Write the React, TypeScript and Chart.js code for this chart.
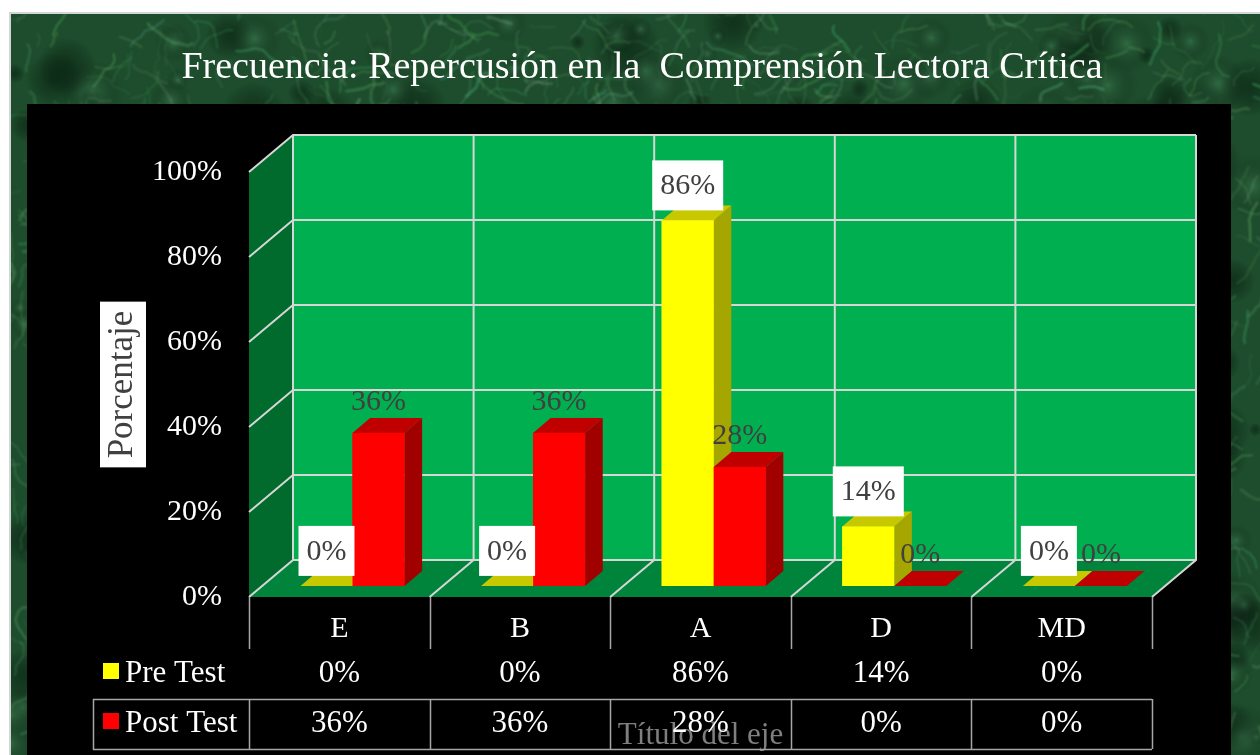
import { useEffect, useRef } from 'react';
import { Chart, registerables } from 'chart.js';

Chart.register(...registerables);

// ---- data ----
const categories = ['E', 'B', 'A', 'D', 'MD'];
const preTest = [0, 0, 86, 14, 0];
const postTest = [36, 36, 28, 0, 0];
const seriesNames = ['Pre Test', 'Post Test'];
const yMax = 100;
const yStep = 20;

const chartTitle = 'Frecuencia: Repercusión en la  Comprensión Lectora Crítica';
const yTitle = 'Porcentaje';
const xTitle = 'Título del eje';

// ---- look ----
const W = 1260;
const H = 755;
const SERIF = '"Liberation Serif", "Times New Roman", serif';

// oblique depth of the plot box, and where the bar row sits inside it
const DEPTH_X = 44;
const DEPTH_Y = -37;
const BAR_FRONT = 0.3;
const BAR_DEPTH = 0.4;

const frontColors = ['#FFFF00', '#FF0000'];
const topColors = ['#C8C800', '#C00000'];
const sideColors = ['#A6A600', '#A00000'];

function mulberry32(seed: number) {
  let a = seed;
  return () => {
    a |= 0;
    a = (a + 0x6d2b79f5) | 0;
    let t = Math.imul(a ^ (a >>> 15), 1 | a);
    t = (t + Math.imul(t ^ (t >>> 7), 61 | t)) ^ t;
    return ((t ^ (t >>> 14)) >>> 0) / 4294967296;
  };
}

// green marble slide background
function drawMarble(ctx: CanvasRenderingContext2D, x: number, y: number, w: number, h: number) {
  ctx.save();
  ctx.beginPath();
  ctx.rect(x, y, w, h);
  ctx.clip();
  ctx.fillStyle = '#1d4d2c';
  ctx.fillRect(x, y, w, h);
  const rnd = mulberry32(90210);
  for (let i = 0; i < 420; i++) {
    const cx = x + rnd() * w;
    const cy = y + rnd() * h;
    const r = 6 + rnd() * 30;
    const light = rnd() < 0.55;
    const g = ctx.createRadialGradient(cx, cy, 0, cx, cy, r);
    g.addColorStop(0, light ? 'rgba(70,140,92,0.45)' : 'rgba(4,32,14,0.55)');
    g.addColorStop(1, 'rgba(0,0,0,0)');
    ctx.fillStyle = g;
    ctx.fillRect(cx - r, cy - r, 2 * r, 2 * r);
  }
  ctx.filter = 'blur(1px)';
  ctx.lineCap = 'round';
  ctx.lineJoin = 'round';
  for (let i = 0; i < 1600; i++) {
    let px = x + rnd() * w;
    let py = y + rnd() * h;
    ctx.beginPath();
    ctx.moveTo(px, py);
    const seg = 3 + Math.floor(rnd() * 5);
    let ang = rnd() * Math.PI * 2;
    for (let s = 0; s < seg; s++) {
      ang += (rnd() - 0.5) * 1.4;
      const len = 3 + rnd() * 8;
      px += Math.cos(ang) * len;
      py += Math.sin(ang) * len;
      ctx.lineTo(px, py);
    }
    const r = (70 + rnd() * 50) | 0;
    const gg = (140 + rnd() * 50) | 0;
    const b = (95 + rnd() * 35) | 0;
    ctx.strokeStyle = `rgba(${r},${gg},${b},${0.15 + rnd() * 0.3})`;
    ctx.lineWidth = 0.8 + rnd() * 2;
    ctx.stroke();
  }
  ctx.filter = 'none';
  ctx.restore();
}

function poly(ctx: CanvasRenderingContext2D, pts: number[][], fill: string) {
  ctx.beginPath();
  ctx.moveTo(pts[0][0], pts[0][1]);
  for (let i = 1; i < pts.length; i++) ctx.lineTo(pts[i][0], pts[i][1]);
  ctx.closePath();
  ctx.fillStyle = fill;
  ctx.fill();
}

const scenePlugin = {
  id: 'scene',
  beforeDraw(chart: any) {
    const ctx: CanvasRenderingContext2D = chart.ctx;
    ctx.save();
    ctx.fillStyle = '#ffffff';
    ctx.fillRect(0, 0, W, H);
    drawMarble(ctx, 10, 14, W - 10, H - 14);
    ctx.strokeStyle = '#D4D4D4';
    ctx.lineWidth = 2;
    ctx.beginPath();
    ctx.moveTo(10, H);
    ctx.lineTo(10, 13);
    ctx.lineTo(W, 13);
    ctx.stroke();

    ctx.fillStyle = '#ffffff';
    ctx.font = `38px ${SERIF}`;
    ctx.textAlign = 'center';
    ctx.textBaseline = 'alphabetic';
    ctx.fillText(chartTitle, 642, 78);

    // black plot panel
    ctx.fillStyle = '#000000';
    ctx.fillRect(27, 104, 1204, H - 104);

    // white box behind the value-axis title
    const ys = chart.scales.y;
    const cy = (ys.top + ys.bottom) / 2;
    ctx.font = `35px ${SERIF}`;
    const tw = ctx.measureText(yTitle).width;
    ctx.fillStyle = '#ffffff';
    ctx.fillRect(100, cy - tw / 2 - 9, 46, tw + 18);
    ctx.restore();
  },
  beforeDatasetsDraw(chart: any) {
    const ctx: CanvasRenderingContext2D = chart.ctx;
    const { left: L, right: R } = chart.chartArea;
    const ys = chart.scales.y;
    const xs = chart.scales.x;
    const y0 = ys.getPixelForValue(0);
    const y1 = ys.getPixelForValue(yMax);
    const n = categories.length;
    const cw = (R - L) / n;

    ctx.save();
    // back wall, side wall, floor
    poly(ctx, [[L + DEPTH_X, y1 + DEPTH_Y], [R + DEPTH_X, y1 + DEPTH_Y], [R + DEPTH_X, y0 + DEPTH_Y], [L + DEPTH_X, y0 + DEPTH_Y]], '#00B050');
    poly(ctx, [[L, y1], [L + DEPTH_X, y1 + DEPTH_Y], [L + DEPTH_X, y0 + DEPTH_Y], [L, y0]], '#006B2D');
    poly(ctx, [[L, y0], [R, y0], [R + DEPTH_X, y0 + DEPTH_Y], [L + DEPTH_X, y0 + DEPTH_Y]], '#00843C');

    // gridlines on walls and floor
    ctx.strokeStyle = '#D6D6D6';
    ctx.lineWidth = 2;
    ctx.beginPath();
    for (let v = 0; v <= yMax; v += yStep) {
      const y = ys.getPixelForValue(v);
      ctx.moveTo(L, y);
      ctx.lineTo(L + DEPTH_X, y + DEPTH_Y);
      ctx.lineTo(R + DEPTH_X, y + DEPTH_Y);
    }
    for (let k = 0; k <= n; k++) {
      const xb = L + k * cw;
      ctx.moveTo(xb, y0);
      ctx.lineTo(xb + DEPTH_X, y0 + DEPTH_Y);
      ctx.lineTo(xb + DEPTH_X, y1 + DEPTH_Y);
    }
    ctx.stroke();

    // data table under the plot
    ctx.strokeStyle = '#A6A6A6';
    ctx.lineWidth = 1.5;
    ctx.beginPath();
    for (let k = 0; k <= n; k++) {
      const xb = Math.round(L + k * cw) + 0.5;
      ctx.moveTo(xb, y0);
      ctx.lineTo(xb, 649);
      ctx.moveTo(xb, 699);
      ctx.lineTo(xb, 749);
    }
    ctx.moveTo(93, 699.5);
    ctx.lineTo(R, 699.5);
    ctx.moveTo(93, 749.5);
    ctx.lineTo(R, 749.5);
    ctx.moveTo(93.5, 699);
    ctx.lineTo(93.5, 750);
    ctx.stroke();

    const rows = [preTest, postTest];
    const baselines = [682, 732];
    ctx.font = `31px ${SERIF}`;
    ctx.textBaseline = 'alphabetic';
    rows.forEach((vals, d) => {
      const by = baselines[d];
      ctx.fillStyle = frontColors[d];
      ctx.fillRect(103, by - 19, 16, 16);
      ctx.fillStyle = '#ffffff';
      ctx.textAlign = 'left';
      ctx.fillText(seriesNames[d], 125, by);
      ctx.textAlign = 'center';
      vals.forEach((v, i) => {
        ctx.fillText(`${v}%`, xs.getPixelForValue(i), by);
      });
    });
    ctx.restore();

    // the bar row stands partway into the depth of the box
    ctx.save();
    ctx.translate(BAR_FRONT * DEPTH_X, BAR_FRONT * DEPTH_Y);
  },
  afterDatasetsDraw(chart: any) {
    const ctx: CanvasRenderingContext2D = chart.ctx;
    const bx = BAR_DEPTH * DEPTH_X;
    const by = BAR_DEPTH * DEPTH_Y;
    const metas = [chart.getDatasetMeta(0), chart.getDatasetMeta(1)];

    // side, top and front faces, left to right so nearer faces overlap correctly
    for (let i = 0; i < categories.length; i++) {
      metas.forEach((meta: any, d: number) => {
        const el = meta.data[i];
        const { x, y, base, width } = el.getProps(['x', 'y', 'base', 'width'], true);
        const l = x - width / 2;
        const r = x + width / 2;
        poly(ctx, [[r, y], [r + bx, y + by], [r + bx, base + by], [r, base]], sideColors[d]);
        poly(ctx, [[l, y], [r, y], [r + bx, y + by], [l + bx, y + by]], topColors[d]);
        ctx.fillStyle = frontColors[d];
        ctx.fillRect(l, y, width, base - y);
      });
    }

    // value labels
    ctx.font = `30px ${SERIF}`;
    ctx.textAlign = 'center';
    ctx.textBaseline = 'middle';
    const series = [preTest, postTest];
    metas.forEach((meta: any, d: number) => {
      meta.data.forEach((el: any, i: number) => {
        const { x, y } = el.getProps(['x', 'y'], true);
        const txt = `${series[d][i]}%`;
        const cy = d === 0 ? y - 35 : y - 32;
        if (d === 0) {
          const tw = ctx.measureText(txt).width + 16;
          ctx.fillStyle = '#ffffff';
          ctx.fillRect(x - tw / 2, cy - 25, tw, 50);
        }
        ctx.fillStyle = '#404040';
        ctx.fillText(txt, x, cy + 1);
      });
    });
    ctx.restore();
  },
};

export default function App() {
  const ref = useRef<HTMLCanvasElement>(null);

  useEffect(() => {
    document.body.style.margin = '0';
    const canvas = ref.current;
    if (!canvas) return;
    const chart = new Chart(canvas, {
      type: 'bar',
      data: {
        labels: categories,
        datasets: [
          {
            label: seriesNames[0],
            data: preTest,
            backgroundColor: frontColors[0],
            borderWidth: 0,
            categoryPercentage: 0.576,
            barPercentage: 1,
            clip: false as any,
          },
          {
            label: seriesNames[1],
            data: postTest,
            backgroundColor: frontColors[1],
            borderWidth: 0,
            categoryPercentage: 0.576,
            barPercentage: 1,
            clip: false as any,
          },
        ],
      },
      options: {
        animation: false,
        responsive: false,
        devicePixelRatio: 1,
        events: [],
        layout: { padding: { left: 0, right: 108, top: 172, bottom: 0 } },
        plugins: {
          legend: { display: false },
          tooltip: { enabled: false },
          title: { display: false },
        },
        scales: {
          x: {
            type: 'category',
            offset: true,
            grid: { display: false, drawTicks: false },
            border: { display: false },
            ticks: {
              color: '#ffffff',
              font: { family: SERIF, size: 30 },
              padding: 14,
              maxRotation: 0,
              autoSkip: false,
            },
            title: {
              display: true,
              text: xTitle,
              color: '#7F7F7F',
              font: { family: SERIF, size: 31 },
              padding: { top: 0, bottom: 1 },
            },
            afterFit: (s: any) => {
              s.height = 158;
            },
          },
          y: {
            min: 0,
            max: yMax,
            grid: { display: false, drawTicks: false },
            border: { display: false },
            ticks: {
              stepSize: yStep,
              color: '#ffffff',
              font: { family: SERIF, size: 30 },
              padding: 27,
              callback: (v: any) => `${v}%`,
            },
            title: {
              display: true,
              text: yTitle,
              color: '#404040',
              font: { family: SERIF, size: 35 },
              padding: { top: 102, bottom: 0 },
            },
            afterFit: (s: any) => {
              s.width = 249;
            },
          },
        },
      },
      plugins: [scenePlugin],
    });
    return () => chart.destroy();
  }, []);

  return <canvas ref={ref} width={W} height={H} style={{ display: 'block' }} />;
}
